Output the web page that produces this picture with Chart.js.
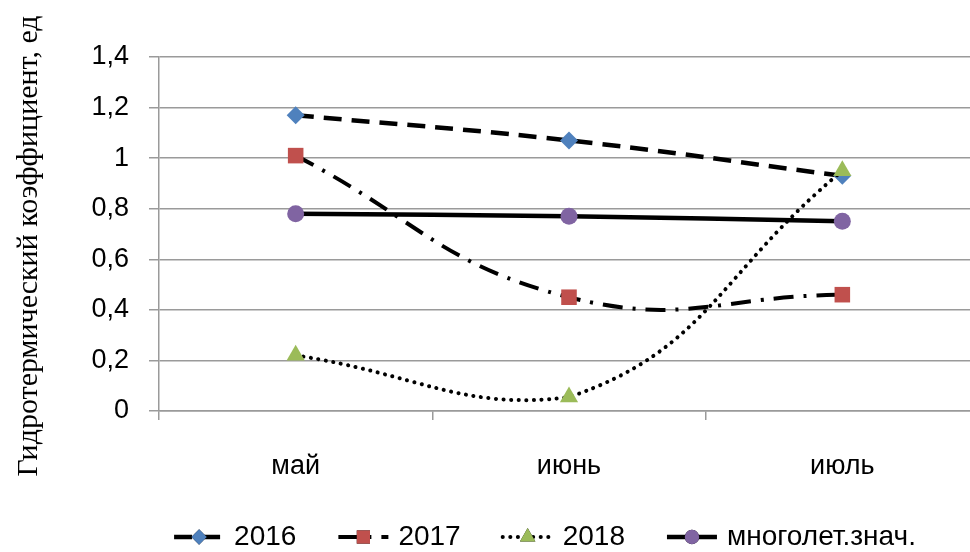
<!DOCTYPE html>
<html>
<head>
<meta charset="utf-8">
<script src="https://cdn.jsdelivr.net/npm/chart.js@4.4.0/dist/chart.umd.min.js"></script>
<style>
  html, body { margin: 0; padding: 0; overflow: hidden; background: #fff; }
  #wrap { width: 990px; height: 552px; }
</style>
</head>
<body>
<div id="wrap"><canvas id="c" width="990" height="552"></canvas></div>
<script>
const months = ['май', 'июнь', 'июль'];
const seriesNames = ['2016', '2017', '2018', 'многолет.знач.'];
const y2016 = [1.17, 1.07, 0.93];
const y2017 = [1.01, 0.45, 0.46];
const y2018 = [0.22, 0.055, 0.95];
const yLongTerm = [0.78, 0.77, 0.75];

const axisTitle = 'Гидротермический коэффициент, ед';
const gridColor = '#9a9a9a';
const tickFont = { family: 'Liberation Sans', size: 27 };

// axis title sits a bit lower than the plot middle in the original, so draw it by hand
const sideTitle = {
  id: 'sideTitle',
  afterDraw(chart) {
    const ctx = chart.ctx;
    ctx.save();
    ctx.translate(29, 246);
    ctx.rotate(-Math.PI / 2);
    ctx.font = '30px "Liberation Serif"';
    ctx.fillStyle = '#000';
    ctx.textAlign = 'center';
    ctx.textBaseline = 'middle';
    ctx.fillText(axisTitle, 0, 0);
    ctx.restore();
  }
};

// legend drawn by hand: line sample + marker + text, like the office chart
const lineLegend = {
  id: 'lineLegend',
  afterDraw(chart) {
    const ctx = chart.ctx;
    const sets = chart.data.datasets;
    const sample = 50;
    const gapAfterSample = 10;
    const gapBetween = 42;
    ctx.save();
    ctx.font = '28px "Liberation Sans"';
    const widths = sets.map(ds => ctx.measureText(ds.label).width);
    const total = widths.reduce((a, w) => a + w + sample + gapAfterSample, 0) + gapBetween * (sets.length - 1);
    let x = 545 - total / 2;
    const y = 537;
    sets.forEach((ds, i) => {
      ctx.strokeStyle = ds.borderColor;
      ctx.lineWidth = ds.borderWidth;
      ctx.lineCap = ds.borderCapStyle || 'butt';
      ctx.setLineDash(ds.borderDash || []);
      ctx.beginPath();
      ctx.moveTo(x, y);
      ctx.lineTo(x + sample, y);
      ctx.stroke();
      ctx.setLineDash([]);
      Chart.helpers.drawPoint(ctx, {
        pointStyle: ds.pointStyle,
        radius: ds.pointRadius * 0.85,
        rotation: 0,
        borderWidth: 0
      }, x + sample / 2, y);
      ctx.fillStyle = ds.pointBackgroundColor;
      ctx.fill();
      ctx.fillStyle = '#000';
      ctx.textBaseline = 'middle';
      ctx.textAlign = 'left';
      ctx.fillText(ds.label, x + sample + gapAfterSample, y);
      x += sample + gapAfterSample + widths[i] + gapBetween;
    });
    ctx.restore();
  }
};

new Chart(document.getElementById('c'), {
  type: 'line',
  data: {
    labels: months,
    datasets: [{
      label: seriesNames[0],
      data: y2016,
      borderColor: '#000',
      borderWidth: 4.5,
      borderDash: [18, 10],
      pointStyle: 'rectRot',
      pointRadius: 9,
      pointBackgroundColor: '#4F81BD',
      pointBorderColor: '#4F81BD',
      pointBorderWidth: 0,
      order: 4
    }, {
      label: seriesNames[1],
      data: y2017,
      borderColor: '#000',
      borderWidth: 4,
      borderDash: [20, 10, 3, 10],
      pointStyle: 'rect',
      pointRadius: 11,
      pointBackgroundColor: '#C0504D',
      pointBorderColor: '#C0504D',
      pointBorderWidth: 0,
      order: 3
    }, {
      label: seriesNames[2],
      data: y2018,
      borderColor: '#000',
      borderWidth: 4,
      borderDash: [0.1, 7.5],
      borderCapStyle: 'round',
      pointStyle: 'triangle',
      pointRadius: 10.5,
      pointBackgroundColor: '#9BBB59',
      pointBorderColor: '#9BBB59',
      pointBorderWidth: 0,
      order: 2
    }, {
      label: seriesNames[3],
      data: yLongTerm,
      borderColor: '#000',
      borderWidth: 4.5,
      pointStyle: 'circle',
      pointRadius: 8.5,
      pointBackgroundColor: '#8064A2',
      pointBorderColor: '#8064A2',
      pointBorderWidth: 0,
      order: 1
    }]
  },
  options: {
    responsive: false,
    animation: false,
    tension: 0.45,
    layout: { padding: { top: 57, right: 9, left: 0, bottom: 0 } },
    plugins: {
      legend: { display: false },
      tooltip: { enabled: false }
    },
    scales: {
      x: {
        offset: true,
        grid: {
          offset: true,
          drawOnChartArea: false,
          drawTicks: true,
          tickLength: 9,
          color: gridColor,
          lineWidth: 1.5
        },
        border: { display: true, color: gridColor, width: 1.5 },
        ticks: { color: '#000', font: tickFont, padding: 30 },
        afterFit(scale) { scale.height = 141; }
      },
      y: {
        min: 0,
        max: 1.4,
        ticks: {
          stepSize: 0.2,
          color: '#000',
          font: tickFont,
          padding: 20,
          callback: v => String(Number(v.toFixed(1))).replace('.', ',')
        },
        grid: { color: gridColor, lineWidth: 1.5, tickLength: 10 },
        border: { display: true, color: gridColor, width: 1.5 },
        afterFit(scale) { scale.width = 159; }
      }
    }
  },
  plugins: [sideTitle, lineLegend]
});
</script>
</body>
</html>
